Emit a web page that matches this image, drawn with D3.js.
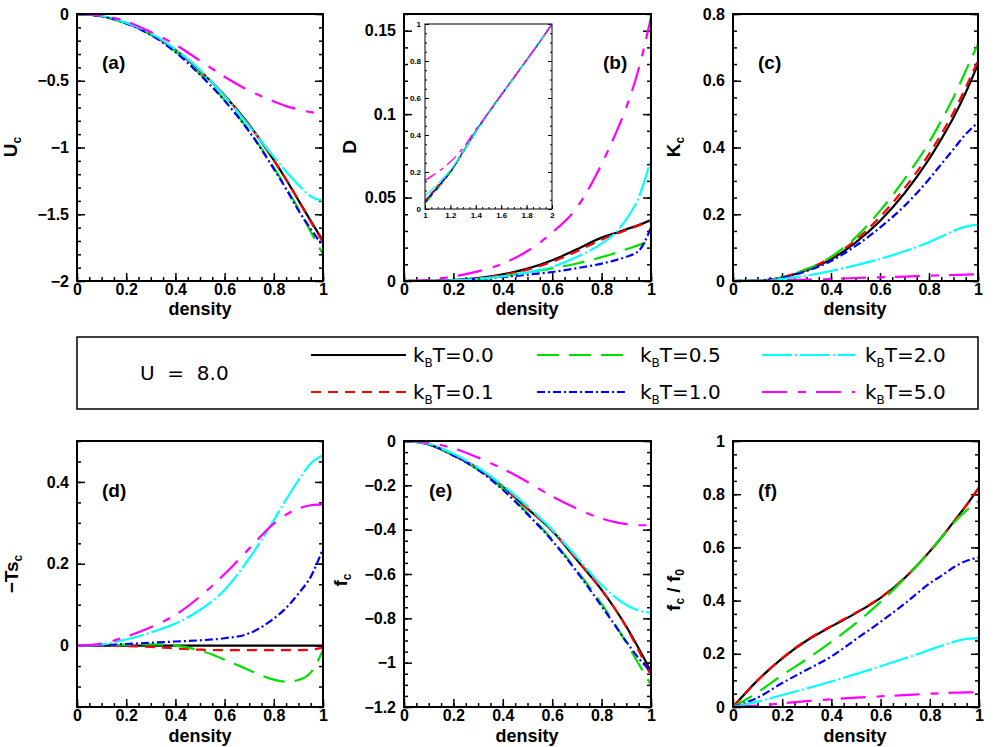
<!DOCTYPE html>
<html><head><meta charset="utf-8">
<script src="https://cdn.jsdelivr.net/npm/d3@7"></script>
<style>body{margin:0;background:#fff}svg{display:block}</style>
</head><body>
<svg id="c" width="1000" height="747"></svg>
<script>
// ---------- DATA ----------
const density = [0, 0.1, 0.2, 0.3, 0.4, 0.5, 0.6, 0.7, 0.8, 0.85, 0.9, 0.95, 1.0];
const temps = ["0.0", "0.1", "0.5", "1.0", "2.0", "5.0"];

// (a) U_c, series order = temps
const Uc = [
  [0, -0.017, -0.068, -0.15, -0.27, -0.425, -0.61, -0.83, -1.095, -1.24, -1.395, -1.55, -1.70],
  [0, -0.017, -0.068, -0.15, -0.27, -0.425, -0.61, -0.83, -1.095, -1.24, -1.395, -1.555, -1.71],
  [0, -0.017, -0.07, -0.155, -0.28, -0.45, -0.645, -0.875, -1.15, -1.30, -1.46, -1.63, -1.80],
  [0, -0.017, -0.07, -0.157, -0.285, -0.455, -0.65, -0.88, -1.16, -1.31, -1.47, -1.61, -1.74],
  [0, -0.015, -0.065, -0.145, -0.265, -0.42, -0.615, -0.84, -1.07, -1.18, -1.28, -1.365, -1.40],
  [0, -0.012, -0.055, -0.135, -0.23, -0.35, -0.47, -0.575, -0.655, -0.69, -0.715, -0.735, -0.745]
];
// (b) D
const Dvals = [
  [0, 0.0001, 0.0005, 0.0017, 0.004, 0.0074, 0.0124, 0.019, 0.026, 0.0285, 0.031, 0.0335, 0.0365],
  [0, 0.0001, 0.0005, 0.0015, 0.0036, 0.0068, 0.0115, 0.0178, 0.0248, 0.0278, 0.0305, 0.0333, 0.036],
  [0, 0.0001, 0.0004, 0.0012, 0.0028, 0.0052, 0.0076, 0.0105, 0.0143, 0.0165, 0.019, 0.0215, 0.024],
  [0, 0.0001, 0.0004, 0.0012, 0.0024, 0.0038, 0.0054, 0.0077, 0.0104, 0.0122, 0.0145, 0.018, 0.032],
  [0, 0.0001, 0.0004, 0.0013, 0.0028, 0.0052, 0.0085, 0.0144, 0.0224, 0.028, 0.037, 0.050, 0.073],
  [0, 0.0006, 0.0028, 0.0058, 0.0104, 0.018, 0.029, 0.044, 0.070, 0.086, 0.104, 0.127, 0.158]
];
// inset of (b)
const insetX = [1.0, 1.1, 1.2, 1.3, 1.4, 1.5, 1.6, 1.7, 1.8, 1.9, 2.0];
const insetD = [
  [0.04, 0.12, 0.2, 0.31, 0.42, 0.52, 0.616, 0.71, 0.805, 0.9, 1.0],
  [0.045, 0.125, 0.205, 0.31, 0.42, 0.52, 0.616, 0.71, 0.805, 0.9, 1.0],
  [0.03, 0.11, 0.2, 0.305, 0.415, 0.52, 0.616, 0.71, 0.805, 0.9, 1.0],
  [0.035, 0.115, 0.2, 0.31, 0.42, 0.52, 0.616, 0.71, 0.805, 0.9, 1.0],
  [0.07, 0.135, 0.21, 0.31, 0.415, 0.515, 0.612, 0.708, 0.805, 0.9, 1.0],
  [0.155, 0.2, 0.255, 0.33, 0.43, 0.52, 0.616, 0.71, 0.805, 0.9, 1.0]
];
// (c) K_c
const Kc = [
  [0, 0.0005, 0.01, 0.032, 0.065, 0.115, 0.18, 0.263, 0.365, 0.425, 0.49, 0.565, 0.65],
  [0, 0.0005, 0.011, 0.035, 0.07, 0.122, 0.192, 0.278, 0.38, 0.44, 0.505, 0.58, 0.66],
  [0, 0.0005, 0.011, 0.035, 0.072, 0.13, 0.21, 0.305, 0.415, 0.48, 0.55, 0.63, 0.71],
  [0, 0.0005, 0.01, 0.03, 0.06, 0.105, 0.16, 0.225, 0.305, 0.35, 0.395, 0.44, 0.475],
  [0, 0.0005, 0.006, 0.016, 0.03, 0.047, 0.066, 0.089, 0.116, 0.133, 0.15, 0.163, 0.168],
  [0, 0.0002, 0.002, 0.004, 0.006, 0.009, 0.011, 0.013, 0.016, 0.017, 0.018, 0.019, 0.02]
];
// (d) -T s_c
const TSc = [
  [0, 0, 0, 0, 0, 0, 0, 0, 0, 0, 0, 0, 0],
  [0, 0, -0.001, -0.003, -0.007, -0.01, -0.011, -0.011, -0.011, -0.011, -0.011, -0.01, -0.004],
  [0, 0.001, 0.002, 0.003, 0, -0.012, -0.034, -0.06, -0.083, -0.088, -0.084, -0.066, -0.011],
  [0, 0.001, 0.004, 0.007, 0.01, 0.013, 0.018, 0.03, 0.066, 0.092, 0.127, 0.168, 0.237],
  [0, 0.003, 0.015, 0.032, 0.054, 0.087, 0.136, 0.213, 0.306, 0.357, 0.404, 0.445, 0.465],
  [0, 0.005, 0.022, 0.045, 0.075, 0.12, 0.175, 0.237, 0.298, 0.32, 0.335, 0.343, 0.345]
];
// (e) f_c
const Fc = [
  [0, -0.015, -0.065, -0.125, -0.207, -0.305, -0.405, -0.537, -0.672, -0.75, -0.837, -0.935, -1.04],
  [0, -0.015, -0.065, -0.125, -0.207, -0.305, -0.405, -0.535, -0.672, -0.75, -0.84, -0.945, -1.06],
  [0, -0.015, -0.065, -0.13, -0.215, -0.325, -0.445, -0.585, -0.735, -0.82, -0.91, -1.005, -1.10],
  [0, -0.015, -0.065, -0.13, -0.22, -0.33, -0.45, -0.59, -0.745, -0.825, -0.905, -0.98, -1.04],
  [0, -0.013, -0.058, -0.12, -0.2, -0.295, -0.4, -0.525, -0.65, -0.7, -0.74, -0.765, -0.775],
  [0, -0.008, -0.033, -0.075, -0.125, -0.185, -0.25, -0.305, -0.35, -0.365, -0.375, -0.38, -0.38]
];
// (f) f_c / f_0
const Fratio = [
  [0, 0.10, 0.183, 0.25, 0.303, 0.353, 0.41, 0.487, 0.585, 0.64, 0.70, 0.76, 0.825],
  [0, 0.10, 0.184, 0.252, 0.305, 0.355, 0.412, 0.487, 0.585, 0.64, 0.70, 0.76, 0.825],
  [0, 0.055, 0.12, 0.18, 0.245, 0.315, 0.395, 0.485, 0.585, 0.64, 0.695, 0.74, 0.775],
  [0, 0.035, 0.09, 0.14, 0.19, 0.255, 0.32, 0.39, 0.465, 0.495, 0.527, 0.55, 0.562],
  [0, 0.02, 0.045, 0.07, 0.096, 0.124, 0.153, 0.183, 0.215, 0.231, 0.246, 0.256, 0.259],
  [0, 0.005, 0.014, 0.022, 0.029, 0.035, 0.04, 0.045, 0.05, 0.052, 0.054, 0.055, 0.055]
];

// tick labels
const xTicks = [0, 0.2, 0.4, 0.6, 0.8, 1];
const aTicks = [0, -0.5, -1, -1.5, -2];
const bTicks = [0, 0.05, 0.1, 0.15];
const cTicks = [0, 0.2, 0.4, 0.6, 0.8];
const dTicks = [0, 0.2, 0.4];
const eTicks = [0, -0.2, -0.4, -0.6, -0.8, -1, -1.2];
const fTicks = [0, 0.2, 0.4, 0.6, 0.8, 1];
const insetXTicks = [1, 1.2, 1.4, 1.6, 1.8, 2];
const insetYTicks = [0, 0.2, 0.4, 0.6, 0.8, 1];

// ---------- STYLE ----------
const colors = ["#000000", "#ff0000", "#00e000", "#0000ff", "#00ffff", "#ff00ff"];
const dashes = [null, "10,7", "22,10", "8,3,2,3", "30,3,2,3", "25,11,8,10"];

const svg = d3.select("#c");
const FONT = "'Liberation Sans', Arial, sans-serif";
const fmt = d3.format("~g");

function drawPanel(cfg) {
  const x = d3.scaleLinear().domain(cfg.xd).range([cfg.x0, cfg.x1]);
  const y = d3.scaleLinear().domain(cfg.yd).range([cfg.y1, cfg.y0]);
  const g = svg.append("g");
  const fs = cfg.fs || 16, maj = cfg.maj || 8, mn = cfg.mn || 4;

  const eps = 1e-9;
  const xMinor = d3.range(cfg.xd[0], cfg.xd[1] + eps, cfg.xMinor).map(v => +v.toFixed(6));
  const yMinor = d3.range(cfg.yd[0], cfg.yd[1] + eps, cfg.yMinor).map(v => +v.toFixed(6));

  function styleAxis(sel) {
    sel.select(".domain").remove();
    sel.selectAll("line").attr("stroke", "#000").attr("stroke-width", cfg.tw || 1.5);
    sel.selectAll("text").attr("font-family", FONT).attr("font-weight", "bold")
      .attr("font-size", fs).attr("fill", "#000");
  }
  // left
  g.append("g").attr("transform", `translate(${cfg.x0},0)`)
    .call(d3.axisLeft(y).tickValues(yMinor).tickSizeInner(-mn).tickSizeOuter(0).tickFormat(""))
    .call(styleAxis);
  g.append("g").attr("transform", `translate(${cfg.x0},0)`)
    .call(d3.axisLeft(y).tickValues(cfg.yTicks).tickSizeInner(-maj).tickSizeOuter(0)
      .tickPadding(cfg.yPad || 8).tickFormat(fmt))
    .call(styleAxis);
  // right
  g.append("g").attr("transform", `translate(${cfg.x1},0)`)
    .call(d3.axisRight(y).tickValues(yMinor).tickSizeInner(-mn).tickSizeOuter(0).tickFormat(""))
    .call(styleAxis);
  g.append("g").attr("transform", `translate(${cfg.x1},0)`)
    .call(d3.axisRight(y).tickValues(cfg.yTicks).tickSizeInner(-maj).tickSizeOuter(0).tickFormat(""))
    .call(styleAxis);
  // bottom
  g.append("g").attr("transform", `translate(0,${cfg.y1})`)
    .call(d3.axisBottom(x).tickValues(xMinor).tickSizeInner(-mn).tickSizeOuter(0).tickFormat(""))
    .call(styleAxis);
  g.append("g").attr("transform", `translate(0,${cfg.y1})`)
    .call(d3.axisBottom(x).tickValues(cfg.xTicks).tickSizeInner(-maj).tickSizeOuter(0)
      .tickPadding(cfg.xPad || 4).tickFormat(fmt))
    .call(styleAxis);

  // clip
  const cid = "clip" + cfg.id;
  svg.append("clipPath").attr("id", cid).append("rect")
    .attr("x", cfg.x0).attr("y", cfg.y0).attr("width", cfg.x1 - cfg.x0).attr("height", cfg.y1 - cfg.y0);

  const line = d3.line().x(d => x(d[0])).y(d => y(d[1])).curve(d3.curveMonotoneX);
  const cg = g.append("g").attr("clip-path", `url(#${cid})`);
  cfg.series.forEach((vals, i) => {
    cg.append("path")
      .attr("d", line(cfg.xs.map((xv, j) => [xv, vals[j]])))
      .attr("fill", "none").attr("stroke", colors[i])
      .attr("stroke-width", cfg.lw || 2.2)
      .attr("stroke-dasharray", dashes[i] ? (cfg.dashScale ? dashes[i].split(",").map(v => v * cfg.dashScale).join(",") : dashes[i]) : null);
  });

  // frame
  g.append("rect").attr("x", cfg.x0).attr("y", cfg.y0)
    .attr("width", cfg.x1 - cfg.x0).attr("height", cfg.y1 - cfg.y0)
    .attr("fill", "none").attr("stroke", "#000").attr("stroke-width", cfg.fw || 2);

  return { x, y, g };
}

function yTitle(xb, yc, parts) {
  const t = svg.append("text")
    .attr("transform", `translate(${xb},${yc}) rotate(-90)`)
    .attr("text-anchor", "middle").attr("font-family", FONT).attr("font-weight", "bold")
    .attr("font-size", 19);
  parts.forEach(p => {
    const ts = t.append("tspan").text(p.t);
    if (p.sub) ts.attr("font-size", 12).attr("dy", 4);
    else if (p.after) ts.attr("dy", -4);
  });
}
function xTitle(xc, yb) {
  svg.append("text").attr("x", xc).attr("y", yb).attr("text-anchor", "middle")
    .attr("font-family", FONT).attr("font-weight", "bold").attr("font-size", 18).text("density");
}
function panelLabel(xl, yb, s) {
  svg.append("text").attr("x", xl).attr("y", yb)
    .attr("font-family", FONT).attr("font-weight", "bold").attr("font-size", 19).text(s);
}

const rowTop = { y0: 14, y1: 281 };
const rowBot = { y0: 441, y1: 707 };
const colA = { x0: 77, x1: 323 }, colB = { x0: 404, x1: 651 }, colC = { x0: 733, x1: 978 };

// (a)
drawPanel({ id: "a", ...colA, ...rowTop, xd: [0, 1], yd: [-2, 0], xs: density, series: Uc,
  xTicks, yTicks: aTicks, xMinor: 0.05, yMinor: 0.1, xPad: 3 });
// (b)
drawPanel({ id: "b", ...colB, ...rowTop, xd: [0, 1], yd: [0, 0.16], xs: density, series: Dvals,
  xTicks, yTicks: bTicks, xMinor: 0.05, yMinor: 0.01, xPad: 3 });
// inset
drawPanel({ id: "bi", x0: 425, x1: 552, y0: 24, y1: 209, xd: [1, 2], yd: [0, 1], xs: insetX, series: insetD,
  xTicks: insetXTicks, yTicks: insetYTicks, xMinor: 0.05, yMinor: 0.05, fs: 8, maj: 4, mn: 2,
  yPad: 4, xPad: 3, lw: 1.3, fw: 1, tw: 1, dashScale: 0.5 });
// (c)
drawPanel({ id: "c", ...colC, ...rowTop, xd: [0, 1], yd: [0, 0.8], xs: density, series: Kc,
  xTicks, yTicks: cTicks, xMinor: 0.05, yMinor: 0.05, xPad: 3 });
// (d)
drawPanel({ id: "d", ...colA, ...rowBot, xd: [0, 1], yd: [-0.15, 0.5], xs: density, series: TSc,
  xTicks, yTicks: dTicks, xMinor: 0.05, yMinor: 0.05, xPad: 3 });
// (e)
drawPanel({ id: "e", ...colB, ...rowBot, xd: [0, 1], yd: [-1.2, 0], xs: density, series: Fc,
  xTicks, yTicks: eTicks, xMinor: 0.05, yMinor: 0.05, xPad: 3 });
// (f)
drawPanel({ id: "f", x0: 733, x1: 979, ...rowBot, xd: [0, 1], yd: [0, 1], xs: density, series: Fratio,
  xTicks, yTicks: fTicks, xMinor: 0.05, yMinor: 0.05, xPad: 3 });

// axis titles
xTitle(200, 315); xTitle(527, 315); xTitle(855, 315);
xTitle(200, 742); xTitle(527, 742); xTitle(855, 742);
yTitle(17, 147, [{ t: "U" }, { t: "c", sub: true }]);
yTitle(356, 147, [{ t: "D" }]);
yTitle(680, 147, [{ t: "K" }, { t: "c", sub: true }]);
yTitle(18, 574, [{ t: "−Ts" }, { t: "c", sub: true }]);
yTitle(347, 580, [{ t: "f" }, { t: "c", sub: true }]);
yTitle(680, 590, [{ t: "f" }, { t: "c", sub: true }, { t: " / f", after: true }, { t: "0", sub: true }]);

// panel labels
panelLabel(102, 69, "(a)"); panelLabel(603, 69, "(b)"); panelLabel(758, 69, "(c)");
panelLabel(102, 497, "(d)"); panelLabel(429, 497, "(e)"); panelLabel(758, 497, "(f)");

// legend
svg.append("rect").attr("x", 77).attr("y", 337).attr("width", 901).attr("height", 72)
  .attr("fill", "none").attr("stroke", "#000").attr("stroke-width", 1.5);
svg.append("text").attr("x", 140).attr("y", 380).attr("font-family", "'DejaVu Sans', sans-serif")
  .attr("font-size", 20).attr("xml:space", "preserve").text("U  =  8.0");
const legCols = [[311, 406, 413], [537, 627, 640], [762, 855, 865]];
const legRows = [355, 392];
temps.forEach((t, i) => {
  const col = legCols[Math.floor(i / 2)], row = legRows[i % 2];
  svg.append("line").attr("x1", col[0]).attr("x2", col[1]).attr("y1", row).attr("y2", row)
    .attr("stroke", colors[i]).attr("stroke-width", 2).attr("stroke-dasharray", dashes[i]);
  const tx = svg.append("text").attr("x", col[2]).attr("y", row + 7)
    .attr("font-family", "'DejaVu Sans', sans-serif").attr("font-size", 20);
  tx.append("tspan").text("k");
  tx.append("tspan").text("B").attr("font-size", 12).attr("dy", 5);
  tx.append("tspan").text("T=" + t).attr("dy", -5);
});
</script>
</body></html>
